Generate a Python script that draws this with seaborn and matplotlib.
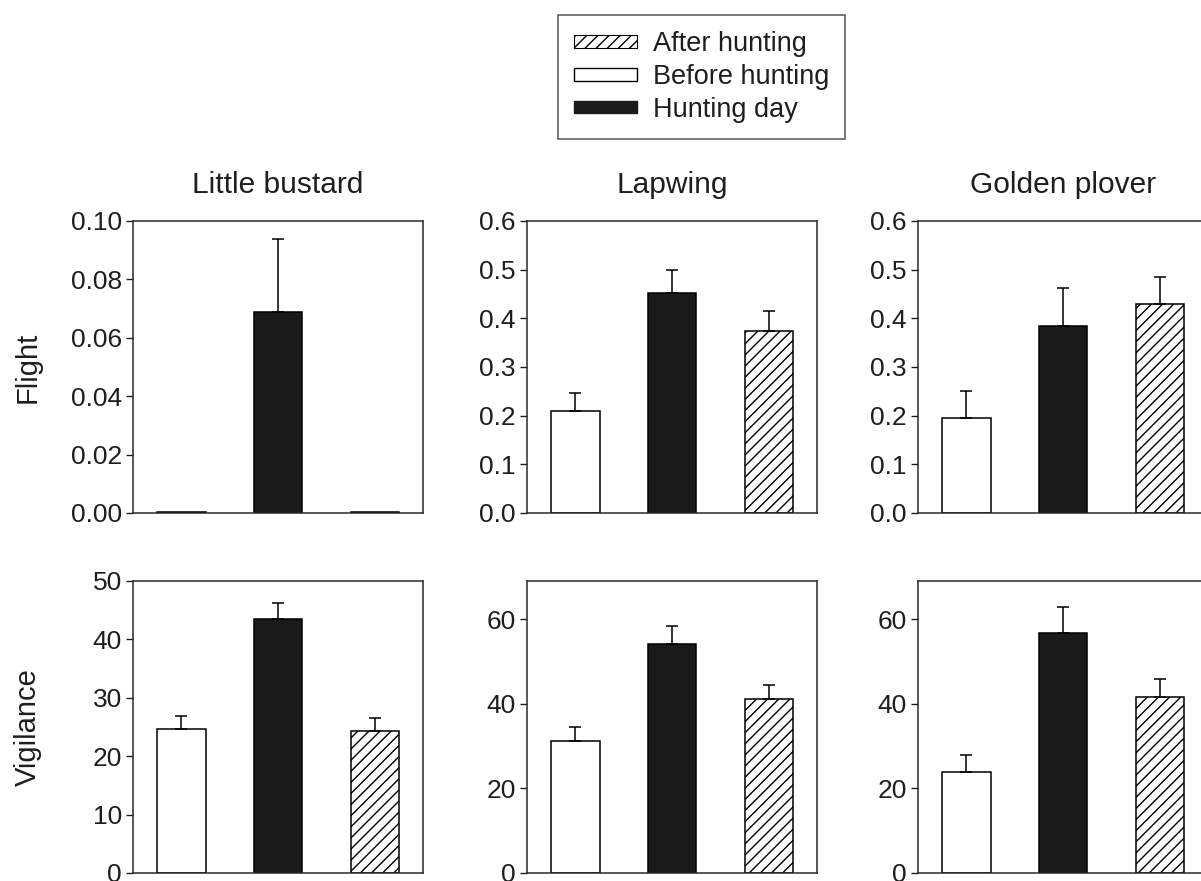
import matplotlib
matplotlib.use("Agg")
import matplotlib.pyplot as plt
from matplotlib.patches import Patch
from matplotlib.ticker import FormatStrFormatter
import seaborn as sns
import pandas as pd
import numpy as np

# Data (bar heights and upper error bar lengths)
species = ["Little bustard", "Lapwing", "Golden plover"]
periods = ["Before hunting", "Hunting day", "After hunting"]

lb_flight = [0.0004, 0.069, 0.0004]
lb_flight_err = [0.0, 0.025, 0.0]
lw_flight = [0.210, 0.453, 0.375]
lw_flight_err = [0.036, 0.046, 0.041]
gp_flight = [0.196, 0.385, 0.429]
gp_flight_err = [0.054, 0.078, 0.056]

lb_vig = [24.7, 43.5, 24.4]
lb_vig_err = [2.1, 2.8, 2.1]
lw_vig = [31.2, 54.2, 41.1]
lw_vig_err = [3.4, 4.1, 3.4]
gp_vig = [23.8, 56.8, 41.5]
gp_vig_err = [4.1, 6.0, 4.3]

flight_ylims = [(0, 0.10), (0, 0.6), (0, 0.6)]
flight_ticks = [[0, 0.02, 0.04, 0.06, 0.08, 0.10],
                [0, 0.1, 0.2, 0.3, 0.4, 0.5, 0.6],
                [0, 0.1, 0.2, 0.3, 0.4, 0.5, 0.6]]
vig_ylims = [(0, 50), (0, 69), (0, 69)]
vig_ticks = [[0, 10, 20, 30, 40, 50], [0, 20, 40, 60], [0, 20, 40, 60]]

sns.set_style("ticks")
plt.rcParams['font.family'] = ['Liberation Sans', 'DejaVu Sans']
plt.rcParams['hatch.linewidth'] = 1.0

ink = "#1e1e1e"
palette = {"Before hunting": "white", "Hunting day": "#1a1a1a", "After hunting": "white"}

fig = plt.figure(figsize=(12.01, 8.81), dpi=100)

W, H = 1201, 881
col_left = [133, 527, 918]
ax_w = 290
row_top = [221, 581]
ax_h = 292

rows = [
    ("Flight", [lb_flight, lw_flight, gp_flight], [lb_flight_err, lw_flight_err, gp_flight_err],
     flight_ylims, flight_ticks),
    ("Vigilance", [lb_vig, lw_vig, gp_vig], [lb_vig_err, lw_vig_err, gp_vig_err],
     vig_ylims, vig_ticks),
]

for r, (metric, means_list, err_list, ylims, ticks) in enumerate(rows):
    for c in range(3):
        left = col_left[c] / W
        bottom = 1 - (row_top[r] + ax_h) / H
        ax = fig.add_axes([left, bottom, ax_w / W, ax_h / H])

        df = pd.DataFrame({"period": periods, "value": means_list[c]})
        sns.barplot(data=df, x="period", y="value", order=periods, hue="period",
                    hue_order=periods, palette=palette, legend=False, width=0.5,
                    edgecolor="black", linewidth=1.1, ax=ax, zorder=2)

        for p in ax.patches:
            xc = p.get_x() + p.get_width() / 2
            if abs(xc - 2) < 0.3:
                p.set_hatch("///")

        errs = np.array(err_list[c])
        keep = errs > 0
        xs = np.arange(3)[keep]
        ax.errorbar(xs, np.array(means_list[c])[keep],
                    yerr=[np.zeros(keep.sum()), errs[keep]],
                    fmt="none", ecolor="black", elinewidth=1.1,
                    capsize=4.3, capthick=1.1, zorder=3)

        ax.set_xlim(-0.5, 2.5)
        ax.set_ylim(*ylims[c])
        ax.set_yticks(ticks[c])
        if r == 0 and c == 0:
            ax.yaxis.set_major_formatter(FormatStrFormatter("%.2f"))
        elif r == 0:
            ax.yaxis.set_major_formatter(FormatStrFormatter("%.1f"))
        else:
            ax.yaxis.set_major_formatter(FormatStrFormatter("%d"))
        ax.set_xticks([])
        ax.set_xlabel("")
        ax.set_ylabel("")
        ax.tick_params(axis="y", direction="out", length=5, width=1.0,
                       labelsize=19, colors=ink, pad=3)
        for s in ax.spines.values():
            s.set_visible(True)
            s.set_linewidth(1.1)
            s.set_color("#2a2a2a")
        if r == 0:
            ax.set_title(species[c], fontsize=21.5, color=ink, pad=20)

fig.text(28 / W, 1 - 367 / H, "Flight", rotation=90, ha="center", va="center",
         fontsize=21, color=ink)
fig.text(28 / W, 1 - 727 / H, "Vigilance", rotation=90, ha="center", va="center",
         fontsize=21, color=ink)

handles = [
    Patch(facecolor="white", edgecolor="black", hatch="///", linewidth=0.8),
    Patch(facecolor="white", edgecolor="black", linewidth=1.0),
    Patch(facecolor="#1a1a1a", edgecolor="#1a1a1a", linewidth=1.0),
]
labels = ["After hunting", "Before hunting", "Hunting day"]
leg = fig.legend(handles, labels, loc="upper left",
                 bbox_to_anchor=(558 / W, 1 - 15 / H), bbox_transform=fig.transFigure,
                 fontsize=19.5, frameon=True, fancybox=False, borderaxespad=0,
                 handlelength=2.3, handleheight=0.35, handletextpad=0.6,
                 labelspacing=0.25, borderpad=0.6)
leg.get_frame().set_edgecolor("#2a2a2a")
leg.get_frame().set_linewidth(1.1)
for t in leg.get_texts():
    t.set_color(ink)

fig.savefig("out.png", dpi=100)
